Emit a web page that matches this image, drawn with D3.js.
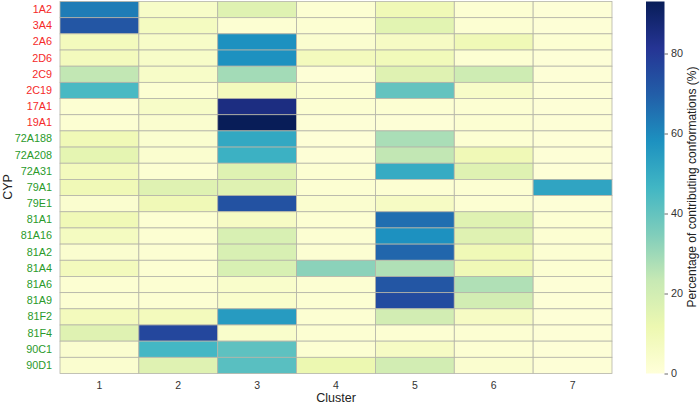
<!DOCTYPE html>
<html>
<head>
<meta charset="utf-8">
<script src="https://cdn.jsdelivr.net/npm/d3@7"></script>
<style>
  body { margin: 0; background: #fff; }
  svg { font-family: "Liberation Sans", Arial, sans-serif; }
</style>
</head>
<body>
<div id="chart"></div>
<script>
// rows (CYPs) and which group colour the label gets
const cyps = ["1A2","3A4","2A6","2D6","2C9","2C19","17A1","19A1","72A188","72A208","72A31",
  "79A1","79E1","81A1","81A16","81A2","81A4","81A6","81A9","81F2","81F4","90C1","90D1"];
const redCyps = ["1A2","3A4","2A6","2D6","2C9","2C19","17A1","19A1"];
const clusters = [1,2,3,4,5,6,7];
const cbTicks = [0,20,40,60,80];
const vmax = 93;

// percentage of contributing conformations, one row per CYP, columns = cluster 1..7
const values = [
  [63, 5, 16, 2, 10, 2, 1],   // 1A2
  [72, 7, 2, 2, 15, 2, 1],    // 3A4
  [8, 5, 58, 3, 6, 10, 2],    // 2A6
  [8, 5, 58, 8, 9, 2, 1],     // 2D6
  [24, 5, 29, 1, 16, 21, 1],  // 2C9
  [45, 2, 8, 2, 40, 5, 1],    // 2C19
  [2, 5, 85, 2, 2, 2, 1],     // 17A1
  [2, 3, 93, 1, 1, 2, 1],     // 19A1
  [10, 3, 51, 1, 28, 2, 1],   // 72A188
  [14, 3, 48, 1, 24, 10, 1],  // 72A208
  [8, 2, 16, 2, 50, 16, 1],   // 72A31
  [10, 16, 16, 2, 2, 2, 52],  // 79A1
  [3, 10, 73, 3, 6, 2, 1],    // 79E1
  [10, 2, 6, 2, 66, 16, 2],   // 81A1
  [7, 2, 18, 2, 58, 16, 2],   // 81A16
  [3, 2, 18, 2, 68, 10, 2],   // 81A2
  [8, 2, 18, 33, 27, 10, 2],  // 81A4
  [2, 2, 4, 2, 72, 27, 1],    // 81A6
  [2, 2, 4, 2, 75, 20, 1],    // 81A9
  [8, 8, 55, 2, 20, 6, 1],    // 81F2
  [16, 76, 4, 2, 2, 2, 1],    // 81F4
  [3, 46, 41, 2, 6, 2, 1],    // 90C1
  [3, 16, 42, 12, 20, 3, 1]   // 90D1
];

const W = 700, H = 405;

const svg = d3.select("#chart").append("svg")
  .attr("width", W).attr("height", H);

const x = d3.scaleBand().domain(clusters).range([60, 612]);
const y = d3.scaleBand().domain(cyps).range([1.5, 373.5]);

// YlGnBu with straight segments between the nine colours
const ylgnbu = d3.schemeYlGnBu[9];
const color = d3.scaleLinear()
  .domain(ylgnbu.map((c, i) => i / (ylgnbu.length - 1) * vmax))
  .range(ylgnbu)
  .clamp(true);

const cells = [];
cyps.forEach((c, i) => clusters.forEach((k, j) => cells.push({cyp: c, cluster: k, v: values[i][j]})));

svg.append("g").selectAll("rect")
  .data(cells)
  .join("rect")
    .attr("x", d => x(d.cluster))
    .attr("y", d => y(d.cyp))
    .attr("width", x.bandwidth())
    .attr("height", y.bandwidth())
    .attr("fill", d => color(d.v))
    .attr("stroke", "#b4b4a8")
    .attr("stroke-width", 0.8);

// x axis
const gx = svg.append("g")
  .attr("transform", `translate(0,373.5)`)
  .call(d3.axisBottom(x).tickSize(0).tickPadding(8));
gx.select(".domain").remove();
gx.selectAll("text").attr("font-size", 10.5).attr("fill", "#333")
  .attr("font-family", "Liberation Sans, Arial, sans-serif");

// y axis
const gy = svg.append("g")
  .attr("transform", `translate(60,0)`)
  .call(d3.axisLeft(y).tickSize(0).tickPadding(8));
gy.select(".domain").remove();
gy.selectAll("text").attr("font-size", 10.8)
  .attr("font-family", "Liberation Sans, Arial, sans-serif")
  .attr("fill", d => redCyps.includes(d) ? "#f52a2a" : "#2a9a2a");

svg.append("text")
  .attr("x", 336).attr("y", 402)
  .attr("text-anchor", "middle")
  .attr("font-size", 12.5).attr("fill", "#222")
  .text("Cluster");

svg.append("text")
  .attr("transform", `translate(12,187) rotate(-90)`)
  .attr("text-anchor", "middle")
  .attr("font-size", 12.5).attr("fill", "#222")
  .text("CYP");

// colour bar
const cbX = 646, cbW = 18.5;
const cy = d3.scaleLinear().domain([0, vmax]).range([373.5, 1.5]);
const grad = svg.append("defs").append("linearGradient")
  .attr("id", "cbgrad").attr("x1", 0).attr("y1", 1).attr("x2", 0).attr("y2", 0);
ylgnbu.forEach((c, i) => {
  grad.append("stop").attr("offset", i / (ylgnbu.length - 1)).attr("stop-color", c);
});
svg.append("rect")
  .attr("x", cbX).attr("y", cy(vmax))
  .attr("width", cbW).attr("height", cy(0) - cy(vmax))
  .attr("fill", "url(#cbgrad)");

const gc = svg.append("g")
  .attr("transform", `translate(${cbX + cbW},0)`)
  .call(d3.axisRight(cy).tickValues(cbTicks).tickSize(3.5).tickPadding(3));
gc.select(".domain").remove();
gc.selectAll("line").attr("stroke", "#444").attr("stroke-width", 0.8);
gc.selectAll("text").attr("font-size", 10.8).attr("fill", "#333")
  .attr("font-family", "Liberation Sans, Arial, sans-serif");

svg.append("text")
  .attr("transform", `translate(696,187) rotate(-90)`)
  .attr("text-anchor", "middle")
  .attr("font-size", 12).attr("fill", "#222")
  .text("Percentage of contributing conformations (%)");
</script>
</body>
</html>
